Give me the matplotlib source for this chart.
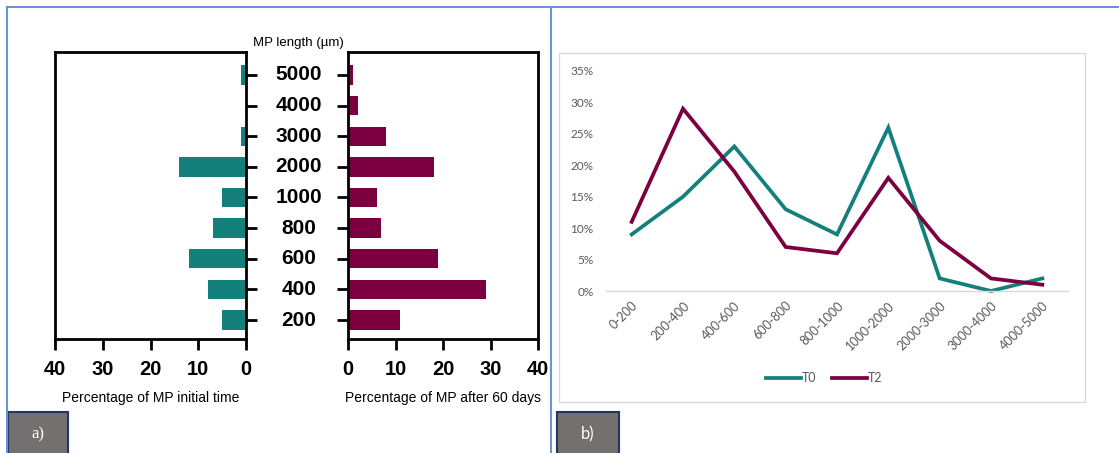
import matplotlib.pyplot as plt
from matplotlib.patches import Rectangle
from matplotlib.lines import Line2D
from matplotlib.transforms import blended_transform_factory

# MP length classes (bar chart) and size ranges (line chart)
lengths = ["200", "400", "600", "800", "1000", "2000", "3000", "4000", "5000"]
ranges = ["0-200", "200-400", "400-600", "600-800", "800-1000",
          "1000-2000", "2000-3000", "3000-4000", "4000-5000"]

# percentage of MP per class
pct_initial = [5, 8, 12, 7, 5, 14, 1, 0, 1]
pct_60days = [11, 29, 19, 7, 6, 18, 8, 2, 1]

# line chart series (fraction)
t0 = [0.09, 0.15, 0.23, 0.13, 0.09, 0.26, 0.02, 0.00, 0.02]
t2 = [0.11, 0.29, 0.19, 0.07, 0.06, 0.18, 0.08, 0.02, 0.01]

teal = "#14807c"
maroon = "#7c0040"

W, H = 1119, 453
fig = plt.figure(figsize=(W / 100, H / 100), dpi=100)
fig.patch.set_facecolor("white")


def px_axes(x0, y0, x1, y1):
    # axes from pixel box (top-left origin)
    return fig.add_axes([x0 / W, 1 - y1 / H, (x1 - x0) / W, (y1 - y0) / H])


sans = "Liberation Sans"
idx = list(range(len(lengths)))

# ---- a) back-to-back bars ----
ax_l = px_axes(55, 52, 246, 339)
ax_r = px_axes(348, 52, 538, 339)

ax_l.barh(idx, pct_initial, height=0.63, color=teal)
ax_r.barh(idx, pct_60days, height=0.63, color=maroon)

ax_l.set_xlim(40, 0)
ax_r.set_xlim(0, 40)
for ax in (ax_l, ax_r):
    ax.set_ylim(-0.62, 8.75)
    ax.set_yticks(idx)
    ax.set_yticklabels([])
    ax.set_xticks([0, 10, 20, 30, 40])
    for s in ax.spines.values():
        s.set_linewidth(2)
    ax.tick_params(axis="both", direction="out", length=8, width=2)
    ax.tick_params(axis="x", labelsize=14.5, pad=7)
    for lab in ax.get_xticklabels():
        lab.set_fontfamily(sans)
        lab.set_fontweight("bold")

ax_l.yaxis.tick_right()
ax_r.yaxis.tick_left()

ax_l.set_xlabel("Percentage of MP initial time", fontsize=10, family=sans, labelpad=9)
ax_r.set_xlabel("Percentage of MP after 60 days", fontsize=10, family=sans, labelpad=9)

# category labels between the two panels
tr = blended_transform_factory(fig.transFigure, ax_l.transData)
for i, lab in enumerate(lengths):
    fig.text(299 / W, i, lab, transform=tr, ha="center", va="center",
             fontsize=15, fontweight="bold", family=sans)
fig.text(298 / W, 1 - 43 / H, "MP length (µm)", ha="center", va="center",
         fontsize=9.5, family=sans)

# ---- b) line chart ----
fig.patches.append(Rectangle((559 / W, 1 - 402 / H), (1085 - 559) / W, (402 - 53) / H,
                             transform=fig.transFigure, fill=False,
                             edgecolor="#d9d9d9", linewidth=1))

ax_b = px_axes(606, 71, 1068, 291)
ax_b.plot(idx, t0, color=teal, linewidth=2.7, label="T0", clip_on=False,
          solid_joinstyle="miter")
ax_b.plot(idx, t2, color=maroon, linewidth=2.7, label="T2", clip_on=False,
          solid_joinstyle="miter")
ax_b.set_xlim(-0.5, 8.5)
ax_b.set_ylim(0, 0.35)
ax_b.set_yticks([i * 0.05 for i in range(8)])
ax_b.set_yticklabels([f"{i * 5}%" for i in range(8)])
ax_b.set_xticks(idx)
ax_b.set_xticklabels(ranges, rotation=45, ha="right", rotation_mode="anchor")
for s in ("top", "right", "left"):
    ax_b.spines[s].set_visible(False)
ax_b.spines["bottom"].set_color("#d9d9d9")
ax_b.spines["bottom"].set_linewidth(1)
ax_b.tick_params(axis="both", length=0, labelcolor="#595959")
ax_b.tick_params(axis="y", pad=9, labelsize=8.5)
ax_b.tick_params(axis="x", pad=6, labelsize=9)
for lab in ax_b.get_xticklabels() + ax_b.get_yticklabels():
    lab.set_fontfamily("Lato")

ax_b.legend(loc="center", bbox_to_anchor=(824 / W, 1 - 378 / H),
            bbox_transform=fig.transFigure, ncol=2, frameon=False,
            handlelength=2.8, handletextpad=0.1, columnspacing=1.2,
            prop={"family": "Lato", "size": 9}, labelcolor="#595959")

# ---- frame lines and panel tags ----
blue = "#6a93d8"
fig.lines.append(Line2D([7 / W, 1], [1 - 7 / H, 1 - 7 / H], transform=fig.transFigure,
                        color=blue, linewidth=1.5))
fig.lines.append(Line2D([7 / W, 7 / W], [0, 1 - 7 / H], transform=fig.transFigure,
                        color=blue, linewidth=1.5))
fig.lines.append(Line2D([551 / W, 551 / W], [0, 1 - 7 / H], transform=fig.transFigure,
                        color=blue, linewidth=1.5))

for x0, x1, tag, fam in [(8, 68, "a)", "Liberation Serif"), (557, 619, "b)", "Lato")]:
    fig.patches.append(Rectangle((x0 / W, -0.05), (x1 - x0) / W, 0.05 + (453 - 412) / H,
                                 transform=fig.transFigure, facecolor="#757070",
                                 edgecolor="#1f3864", linewidth=1.5))
    fig.text((x0 + x1) / 2 / W, 1 - 434 / H, tag, ha="center", va="center",
             color="white", fontsize=12, family=fam)

fig.savefig("out.png", dpi=100)
